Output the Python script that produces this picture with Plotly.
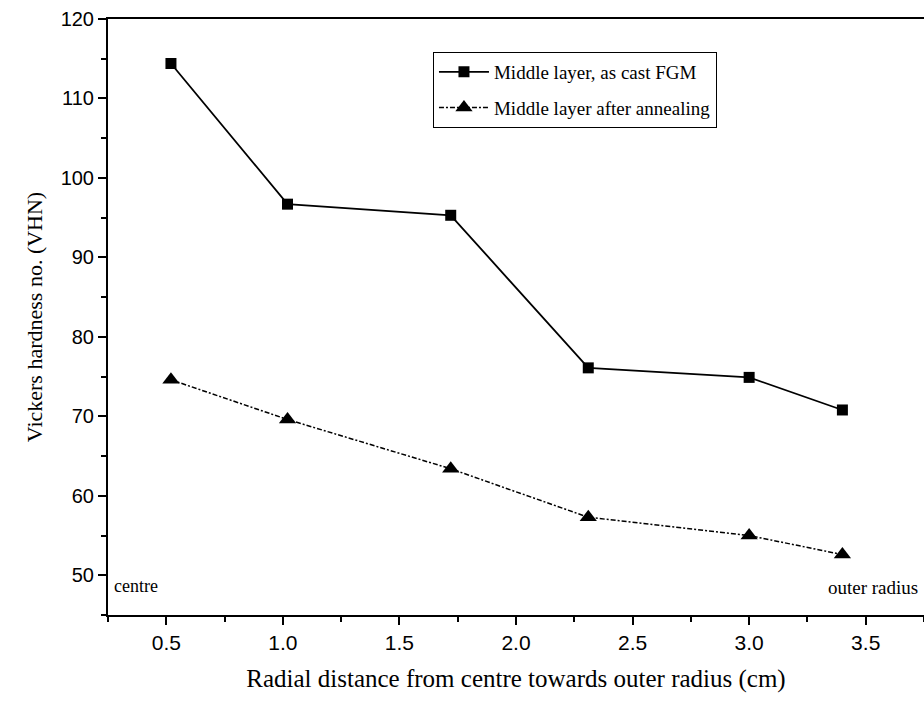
import plotly.graph_objects as go

# Radial positions (cm) and Vickers hardness readings
radial_cm = [0.52, 1.02, 1.72, 2.31, 3.00, 3.40]
hv_as_cast = [114.4, 96.7, 95.3, 76.1, 74.9, 70.8]
hv_annealed = [74.6, 69.6, 63.4, 57.3, 55.0, 52.6]

x_ticks = [0.5, 1.0, 1.5, 2.0, 2.5, 3.0, 3.5]
x_tick_text = ["0.5", "1.0", "1.5", "2.0", "2.5", "3.0", "3.5"]
y_ticks = [50, 60, 70, 80, 90, 100, 110, 120]

serif = "Liberation Serif, Times New Roman, serif"
sans = "Liberation Sans, Arial, sans-serif"

fig = go.Figure()

fig.add_trace(go.Scatter(
    x=radial_cm, y=hv_as_cast,
    mode="lines+markers",
    name="Middle layer, as cast FGM",
    legendgroup="cast",
    line=dict(color="black", width=1.8),
    marker=dict(symbol="square", size=11, color="black"),
))

fig.add_trace(go.Scatter(
    x=radial_cm, y=hv_annealed,
    mode="lines+markers",
    name="Middle layer after annealing",
    legendgroup="annealed",
    line=dict(color="black", width=1.5, dash="5px,2px,2px,2px"),
    marker=dict(symbol="triangle-up", size=15, color="black"),
))

fig.add_annotation(
    x=0, xref="paper", y=48.6, yref="y",
    text="centre", showarrow=False, xanchor="left", xshift=4,
    font=dict(family=serif, size=18, color="black"),
)
fig.add_annotation(
    x=1, xref="paper", y=48.4, yref="y",
    text="outer radius", showarrow=False, xanchor="right", xshift=-4,
    font=dict(family=serif, size=19, color="black"),
)

fig.update_layout(
    width=924, height=712,
    margin=dict(l=108, r=0, t=19, b=97),
    paper_bgcolor="white", plot_bgcolor="white",
    showlegend=True,
    legend=dict(
        x=0.398, y=0.945, xanchor="left", yanchor="top",
        bordercolor="black", borderwidth=1.2, bgcolor="white",
        font=dict(family=serif, size=19, color="black"),
        itemwidth=50, tracegroupgap=8,
    ),
    xaxis=dict(
        range=[0.25, 3.75],
        tickvals=x_ticks, ticktext=x_tick_text,
        ticks="outside", ticklen=8, tickwidth=2, tickcolor="black",
        minor=dict(dtick=0.25, tick0=0.25, ticks="outside", ticklen=5,
                   tickwidth=1.5, tickcolor="black"),
        showline=True, linecolor="black", linewidth=2, mirror=True,
        showgrid=False, zeroline=False,
        tickfont=dict(family=sans, size=21, color="black"),
        title=dict(text="Radial distance from centre towards outer radius (cm)",
                   font=dict(family=serif, size=25, color="black"), standoff=16),
    ),
    yaxis=dict(
        range=[45, 120],
        tickvals=y_ticks,
        ticks="outside", ticklen=8, tickwidth=2, tickcolor="black",
        minor=dict(dtick=5, tick0=45, ticks="outside", ticklen=5,
                   tickwidth=1.5, tickcolor="black"),
        showline=True, linecolor="black", linewidth=2,
        showgrid=False, zeroline=False,
        tickfont=dict(family=sans, size=20, color="black"),
        title=dict(text="Vickers hardness no. (VHN)",
                   font=dict(family=serif, size=22, color="black"), standoff=12),
    ),
)

fig.write_html("out.html")
